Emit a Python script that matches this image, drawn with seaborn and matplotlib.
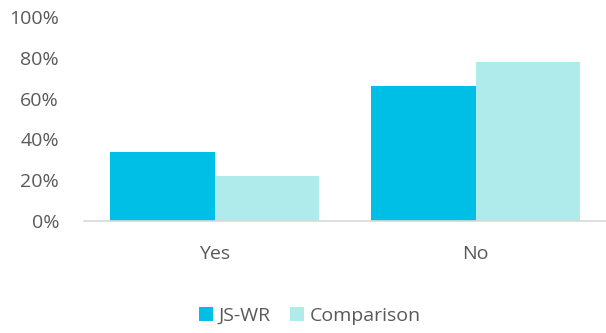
import matplotlib
matplotlib.use("Agg")
import matplotlib.pyplot as plt
import seaborn as sns
import pandas as pd
from matplotlib.ticker import PercentFormatter

categories = ["Yes", "No"]
series_names = ["JS-WR", "Comparison"]
js_wr = [34.0, 66.2]
comparison = [22.0, 78.0]
y_ticks = [0, 20, 40, 60, 80, 100]

rows = []
for c, v in zip(categories, js_wr):
    rows.append({"cat": c, "series": series_names[0], "val": v})
for c, v in zip(categories, comparison):
    rows.append({"cat": c, "series": series_names[1], "val": v})
df = pd.DataFrame(rows)

sns.set_theme(style="white")
plt.rcParams['font.family'] = ['Open Sans', 'DejaVu Sans']

fig = plt.figure(figsize=(6.06, 3.33), dpi=100)
ax = fig.add_axes([84/606, (333-221)/333, (606-84)/606, (221-17)/333])

palette = {"JS-WR": "#00BFE6", "Comparison": "#AFEBEB"}
sns.barplot(data=df, x="cat", y="val", hue="series", order=categories,
            hue_order=series_names, palette=palette, width=0.8, gap=0,
            saturation=1, linewidth=0, ax=ax, legend=True)

ax.set_ylim(0, 100)
ax.set_xlim(-0.5, 1.5)
ax.set_yticks(y_ticks)
ax.yaxis.set_major_formatter(PercentFormatter(decimals=0))
ax.set_xlabel("")
ax.set_ylabel("")
for s in ["top", "right", "left"]:
    ax.spines[s].set_visible(False)
ax.spines["bottom"].set_color("#D9D9D9")
ax.spines["bottom"].set_linewidth(1.2)
ax.tick_params(axis="y", length=0, pad=18, labelsize=14, labelcolor="#595959")
ax.tick_params(axis="x", length=0, pad=17, labelsize=14, labelcolor="#595959")
ax.grid(False)

handles, labels = ax.get_legend_handles_labels()
ax.legend_.remove()
fig.legend(handles, labels, loc="center", bbox_to_anchor=(310/606, 1 - 316/333),
           ncol=2, frameon=False, fontsize=14, labelcolor="#595959",
           handlelength=0.7, handleheight=0.7, handletextpad=0.3, columnspacing=1.0)

fig.savefig("out.png", dpi=100)
